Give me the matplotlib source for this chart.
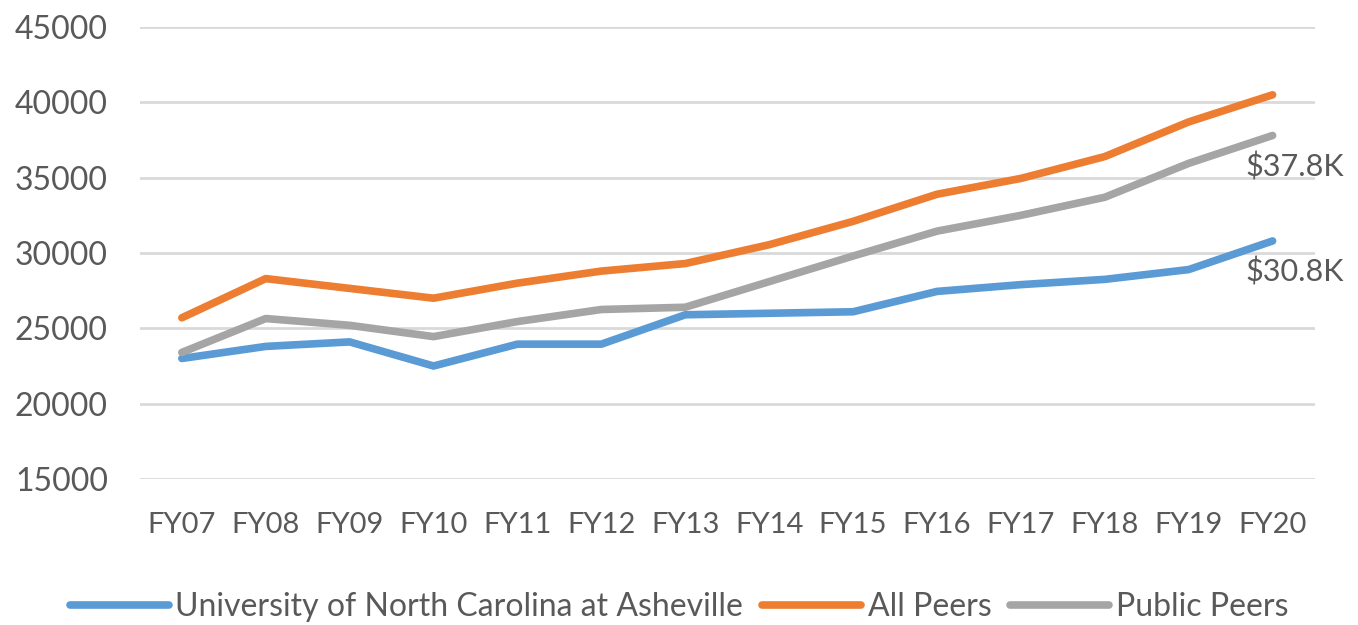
import matplotlib
matplotlib.use("Agg")
import matplotlib.pyplot as plt

years = ["FY07", "FY08", "FY09", "FY10", "FY11", "FY12", "FY13", "FY14",
         "FY15", "FY16", "FY17", "FY18", "FY19", "FY20"]
unca = [23000, 23800, 24100, 22500, 23950, 23950, 25900, 26000,
        26100, 27450, 27900, 28250, 28900, 30800]
all_peers = [25700, 28300, 27650, 27000, 28000, 28800, 29300, 30550,
             32100, 33900, 34950, 36400, 38700, 40500]
public_peers = [23400, 25650, 25200, 24450, 25450, 26250, 26400, 28100,
                29800, 31450, 32500, 33700, 35950, 37800]
yticks = [15000, 20000, 25000, 30000, 35000, 40000, 45000]

plt.rcParams['font.family'] = ['Lato', 'DejaVu Sans']
txt = '#595959'

fig = plt.figure(figsize=(13.58, 6.25), dpi=100)
ax = fig.add_axes([0.103, 0.2336, 0.865, 0.7232])

x = list(range(len(years)))
ax.plot(x, unca, color='#5B9BD5', lw=5.5, solid_capstyle='round', label='University of North Carolina at Asheville', zorder=3)
ax.plot(x, all_peers, color='#ED7D31', lw=5.5, solid_capstyle='round', label='All Peers', zorder=3)
ax.plot(x, public_peers, color='#A5A5A5', lw=5.5, solid_capstyle='round', label='Public Peers', zorder=3)

ax.set_xlim(-0.5, 13.5)
ax.set_ylim(15000, 45000)
ax.set_yticks(yticks)
ax.set_yticklabels([str(v) for v in yticks])
ax.set_xticks(x)
ax.set_xticklabels(years)
ax.grid(axis='y', color='#D9D9D9', lw=2, zorder=0)
ax.set_axisbelow(True)
for s in ax.spines.values():
    s.set_visible(False)
ax.tick_params(axis='y', length=0, labelsize=23, colors=txt, pad=23)
ax.tick_params(axis='x', length=0, labelsize=21, colors=txt, pad=24)

ax.annotate(f"${public_peers[-1]/1000:.1f}K", (x[-1], public_peers[-1]),
            xytext=(16, -23), textcoords='offset points', ha='center', va='center',
            fontsize=22, color=txt)
ax.annotate(f"${unca[-1]/1000:.1f}K", (x[-1], unca[-1]),
            xytext=(16, -22), textcoords='offset points', ha='center', va='center',
            fontsize=22, color=txt)

leg = fig.legend(loc='center', bbox_to_anchor=(0.5, 0.028), ncol=3, frameon=False,
                 fontsize=23, handlelength=3.1, handletextpad=0.2, columnspacing=0.6)
for t in leg.get_texts():
    t.set_color(txt)

fig.savefig('out.png', dpi=100)
